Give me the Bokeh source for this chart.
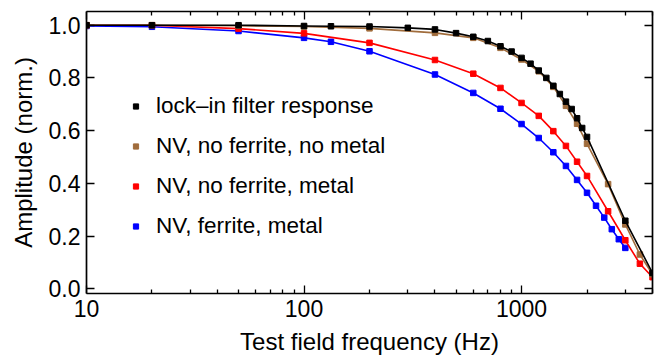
from bokeh.plotting import figure
from bokeh.models import (FixedTicker, LogAxis, LinearAxis, Legend, LegendItem,
                          PrintfTickFormatter, Range1d)
from bokeh.embed import file_html
from bokeh.resources import INLINE

# ---- data ----
lockin_f = [10, 20, 50, 100, 133, 200, 300, 400, 500, 600, 700, 800, 900, 1000,
            1100, 1200, 1300, 1400, 1500, 1600, 1700, 1800, 1900, 2000, 3000, 4000]
lockin_a = [1.0, 1.0, 1.0, 0.997, 0.996, 0.995, 0.99, 0.984, 0.97, 0.956, 0.94, 0.92,
            0.90, 0.876, 0.854, 0.828, 0.80, 0.77, 0.739, 0.71, 0.682, 0.647, 0.61,
            0.576, 0.258, 0.06]

noferr_nometal_f = [10, 20, 50, 100, 200, 400, 600, 800, 1000, 1200, 1400, 1600,
                    1800, 2000, 2500, 3000, 3500, 4000]
noferr_nometal_a = [1.0, 1.0, 0.998, 0.995, 0.988, 0.971, 0.952, 0.914, 0.87, 0.825,
                    0.766, 0.694, 0.626, 0.55, 0.397, 0.244, 0.13, 0.055]

noferr_metal_f = [10, 20, 50, 100, 200, 400, 600, 800, 1000, 1200, 1400, 1600,
                  1800, 2000, 2500, 3000, 3500, 4000]
noferr_metal_a = [1.0, 1.0, 0.987, 0.969, 0.933, 0.868, 0.816, 0.762, 0.705, 0.656,
                  0.598, 0.542, 0.482, 0.428, 0.294, 0.184, 0.095, 0.044]

ferr_metal_f = [10, 20, 50, 100, 133, 200, 400, 600, 800, 1000, 1200, 1400, 1600,
                1800, 2000, 2200, 2400, 2600, 2800, 3000]
ferr_metal_a = [0.997, 0.994, 0.978, 0.952, 0.937, 0.901, 0.813, 0.743, 0.683, 0.625,
                0.572, 0.518, 0.466, 0.413, 0.364, 0.315, 0.27, 0.226, 0.188, 0.155]

series_labels = ["lock\u2013in filter response", "NV, no ferrite, no metal",
                 "NV, no ferrite, metal", "NV, ferrite, metal"]
series_colors = ["#000000", "#a06c3c", "#ff0000", "#0000ff"]

x_major = [10, 100, 1000]
x_minor = [20, 30, 40, 50, 60, 70, 80, 90, 200, 300, 400, 500, 600, 700, 800, 900,
           2000, 3000, 4000]
y_ticks = [0.0, 0.2, 0.4, 0.6, 0.8, 1.0]

FONT = "Liberation Sans"

p = figure(width=657, height=362, x_axis_type="log", output_backend="svg",
           toolbar_location=None, x_range=Range1d(10, 4000),
           y_range=Range1d(-0.018, 1.052))
p.min_border_left = 86
p.min_border_right = 5
p.min_border_top = 11
p.min_border_bottom = 69
p.grid.visible = False
p.outline_line_color = None
p.background_fill_color = "white"
p.border_fill_color = "white"

xt = FixedTicker(ticks=x_major, minor_ticks=x_minor)
yt = FixedTicker(ticks=y_ticks, minor_ticks=[])

def style(ax):
    ax.axis_line_width = 1.7
    ax.axis_line_color = "black"
    ax.major_tick_in = 8
    ax.major_tick_out = 0
    ax.minor_tick_in = 4
    ax.minor_tick_out = 0
    ax.major_tick_line_width = 1.3
    ax.minor_tick_line_width = 1.3
    ax.major_tick_line_color = "black"
    ax.minor_tick_line_color = "black"
    ax.major_label_text_font = FONT
    ax.major_label_text_font_size = "23px"
    ax.major_label_text_color = "black"
    ax.axis_label_text_font = FONT
    ax.axis_label_text_font_size = "24px"
    ax.axis_label_text_font_style = "normal"
    ax.axis_label_text_color = "black"

xa = p.xaxis[0]
xa.ticker = xt
xa.formatter = PrintfTickFormatter(format="%d")
xa.axis_label = "Test field frequency (Hz)"
style(xa)
xa.major_label_standoff = 6
xa.axis_label_standoff = 8

ya = p.yaxis[0]
ya.ticker = yt
ya.formatter = PrintfTickFormatter(format="%.1f")
ya.axis_label = "Amplitude (norm.)"
style(ya)
ya.major_label_standoff = 6
ya.axis_label_standoff = 9

top = LogAxis(ticker=FixedTicker(ticks=x_major, minor_ticks=x_minor),
              major_label_overrides={10: "", 100: "", 1000: ""})
style(top)
top.major_label_standoff = 0
p.add_layout(top, "above")

right = LinearAxis(ticker=FixedTicker(ticks=y_ticks, minor_ticks=[]),
                   major_label_overrides={v: "" for v in y_ticks})
style(right)
right.major_label_standoff = 0
p.add_layout(right, "right")

data = [(lockin_f, lockin_a), (noferr_nometal_f, noferr_nometal_a),
        (noferr_metal_f, noferr_metal_a), (ferr_metal_f, ferr_metal_a)]

items = []
order = [3, 2, 1, 0]
marks = {}
for i in order:
    f, a = data[i]
    c = series_colors[i]
    p.line(f, a, line_color=c, line_width=1.6)
    marks[i] = p.scatter(f, a, marker="square", size=5.5, fill_color=c, line_color=c)

for i in range(4):
    items.append(LegendItem(label=series_labels[i], renderers=[marks[i]]))

legend = Legend(items=items, location=(43, 54), orientation="vertical",
                border_line_color=None, background_fill_alpha=0,
                padding=0, margin=0, spacing=14, glyph_width=13, glyph_height=26,
                label_height=26, label_standoff=14,
                label_text_font=FONT, label_text_font_size="22.5px",
                label_text_color="black")
p.add_layout(legend, "center")

open("out.html", "w").write(file_html(p, INLINE))
